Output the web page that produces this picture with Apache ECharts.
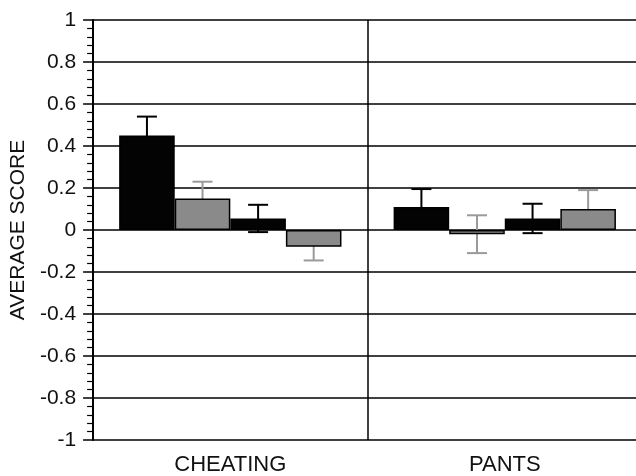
<!DOCTYPE html>
<html>
<head>
<meta charset="utf-8">
<script src="https://cdn.jsdelivr.net/npm/echarts@6/dist/echarts.min.js"></script>
<style>
  html, body { margin: 0; padding: 0; background: #fff; overflow: hidden; }
  /* the plot's right edge runs just past the window edge */
  #chart { width: 642px; height: 476px; }
</style>
</head>
<body>
<div id="chart"></div>
<script>
// Categories along the x axis
const categories = ['CHEATING', 'PANTS'];

// Mean scores for the four conditions (black, gray, black, gray)
const cond1 = [0.45, 0.11];
const cond2 = [0.15, -0.02];
const cond3 = [0.055, 0.055];
const cond4 = [-0.08, 0.10];

// Error bar half-widths for each condition
const err1 = [0.09, 0.085];
const err2 = [0.08, 0.09];
const err3 = [0.065, 0.07];
const err4 = [0.065, 0.09];

// Y axis range and tick step
const yMin = -1, yMax = 1, yStep = 0.2;

const FONT = "'Liberation Sans', Arial, Helvetica, sans-serif";
const BLACK = '#030303';
const GRAY = '#8a8a8a';
const CAT_GAP = 0.19;   // fraction of the band left empty around a group
const N_BARS = 4;

const values = [cond1, cond2, cond3, cond4];
const errors = [err1, err2, err3, err4];
const fills = [BLACK, GRAY, BLACK, GRAY];
const whiskerColors = ['#000', '#9a9a9a', '#000', '#9a9a9a'];

const barSeries = values.map((vals, i) => ({
  name: 'S' + (i + 1),
  type: 'bar',
  data: vals,
  barGap: '0%',
  barCategoryGap: (CAT_GAP * 100) + '%',
  itemStyle: { color: fills[i], borderColor: '#000', borderWidth: 1.5 },
  z: 3
}));

// Whiskers sit beneath the bars so only the part outside each bar shows
const errorSeries = values.map((vals, i) => ({
  name: 'E' + (i + 1),
  type: 'custom',
  data: vals.map((v, j) => [j, v - errors[i][j], v + errors[i][j]]),
  z: 2,
  renderItem: function (params, api) {
    const band = api.size([1, 0])[0];
    const barW = band * (1 - CAT_GAP) / N_BARS;
    const offset = (i - (N_BARS - 1) / 2) * barW;
    const lo = api.coord([api.value(0), api.value(1)]);
    const hi = api.coord([api.value(0), api.value(2)]);
    const x = lo[0] + offset;
    const cap = 10;
    const style = { stroke: whiskerColors[i], lineWidth: 2, fill: null };
    return {
      type: 'group',
      children: [
        { type: 'line', shape: { x1: x, y1: lo[1], x2: x, y2: hi[1] }, style: style },
        { type: 'line', shape: { x1: x - cap, y1: hi[1], x2: x + cap, y2: hi[1] }, style: style },
        { type: 'line', shape: { x1: x - cap, y1: lo[1], x2: x + cap, y2: lo[1] }, style: style }
      ]
    };
  }
}));

const chart = echarts.init(document.getElementById('chart'), null, { renderer: 'canvas' });
chart.setOption({
  animation: false,
  backgroundColor: '#fff',
  grid: { left: 92, right: 0, top: 20, bottom: 36, containLabel: false },
  xAxis: {
    type: 'category',
    data: categories,
    boundaryGap: true,
    axisLine: { show: false },
    axisTick: { show: false },
    axisLabel: { color: '#111', fontFamily: FONT, fontSize: 22, margin: 14 },
    splitLine: { show: true, interval: 0, lineStyle: { color: '#000', width: 1.5 } }
  },
  yAxis: {
    type: 'value',
    min: yMin,
    max: yMax,
    interval: yStep,
    name: 'AVERAGE SCORE',
    nameLocation: 'middle',
    nameGap: 63,
    nameRotate: 90,
    nameTextStyle: { color: '#111', fontFamily: FONT, fontSize: 21 },
    axisLine: { show: true, onZero: false, lineStyle: { color: '#000', width: 2 } },
    axisTick: { show: true, length: 10, lineStyle: { color: '#000', width: 1.5 } },
    minorTick: { show: true, splitNumber: 5, length: 6, lineStyle: { color: '#000', width: 1.2 } },
    axisLabel: {
      color: '#111', fontFamily: FONT, fontSize: 21, margin: 17,
      formatter: v => String(Math.round(v * 10) / 10)
    },
    splitLine: { show: true, lineStyle: { color: '#000', width: 1.5 } }
  },
  series: barSeries.concat(errorSeries)
});
</script>
</body>
</html>
